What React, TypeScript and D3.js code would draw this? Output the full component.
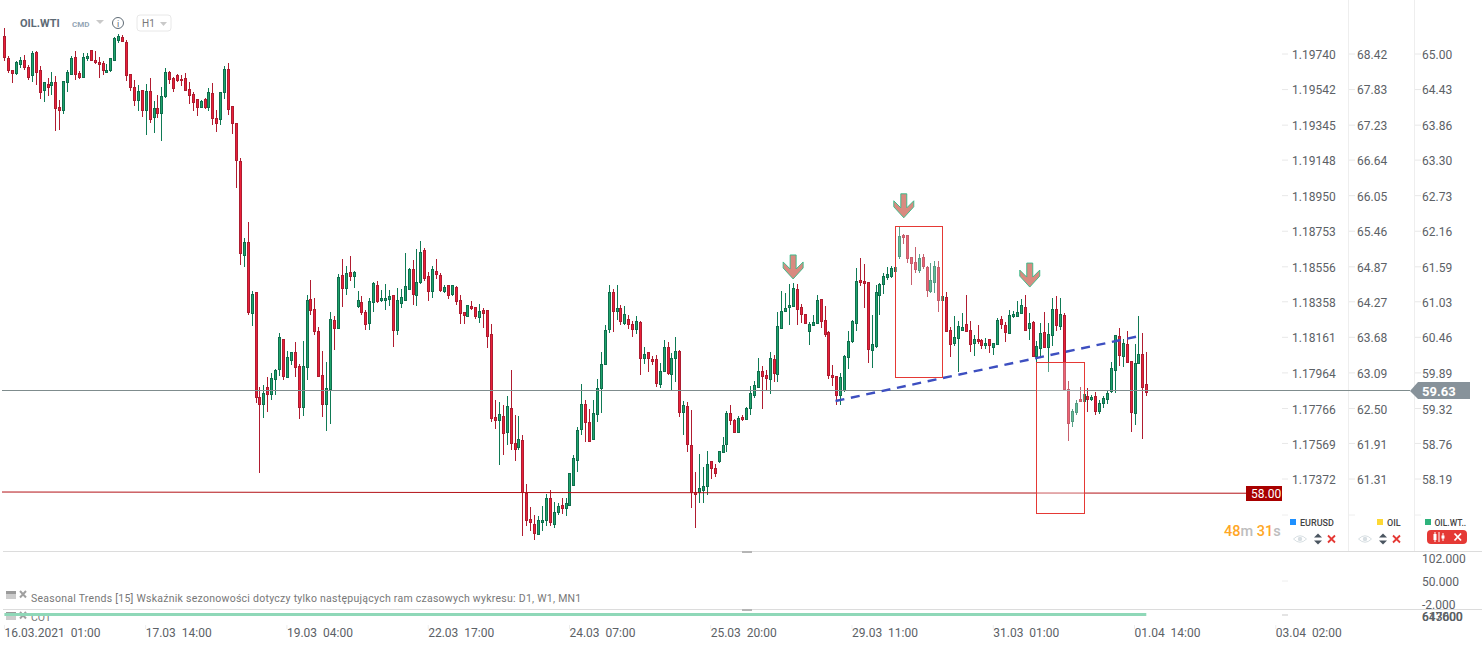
import * as d3 from "d3";

const highs = [
  65.41,64.96,64.75,64.89,64.95,64.98,64.82,65.05,65.05,64.81,
  64.55,64.61,64.71,64.65,64.27,64.57,64.74,64.97,65.05,64.73,
  65.02,65.02,65.06,65.05,64.95,64.89,64.84,64.93,65.27,65.32,
  65.31,65.23,64.68,64.58,64.50,64.42,64.52,64.61,64.25,64.34,
  64.47,64.77,64.73,64.63,64.68,64.66,64.69,64.55,64.39,64.28,
  64.27,64.30,64.45,64.53,64.10,64.39,64.80,64.86,64.17,63.89,
  63.34,62.05,62.31,61.20,61.19,59.66,59.70,59.82,59.89,59.95,
  60.53,60.43,60.24,60.23,60.39,60.03,60.40,61.14,61.38,61.09,
  60.63,60.24,60.07,60.87,60.80,61.47,61.72,61.60,61.76,61.52,
  61.20,61.12,60.90,61.09,61.35,61.36,61.22,61.31,61.22,61.14,
  61.25,61.23,61.81,61.57,61.70,61.88,62.00,61.89,61.51,61.60,
  61.72,61.49,61.30,61.30,61.30,61.28,61.14,60.87,60.98,61.04,
  60.95,60.99,60.93,60.90,60.67,59.46,59.42,59.38,59.52,59.94,
  59.22,59.20,58.90,58.11,57.74,57.61,57.60,57.76,57.95,58.01,
  57.82,57.81,57.89,57.89,58.29,58.58,59.02,59.71,59.46,59.31,
  59.46,59.79,60.22,60.66,61.30,61.23,61.30,60.98,60.96,60.82,
  60.72,60.80,60.72,60.31,60.23,60.16,60.18,60.05,60.42,60.39,
  60.21,60.47,60.26,59.44,59.42,59.30,58.30,58.59,58.38,58.64,
  58.48,58.43,58.64,58.86,59.28,59.38,59.15,59.20,59.22,59.34,
  59.68,59.76,60.13,60.00,59.94,60.22,60.18,60.87,61.20,61.17,
  61.31,61.33,61.31,61.00,60.83,60.71,60.81,61.14,61.07,60.96,
  60.56,60.02,59.84,59.89,60.18,60.56,60.74,61.57,61.73,61.64,
  61.35,60.82,61.30,61.33,61.49,61.59,61.60,61.59,62.23,62.12,
  62.10,61.75,61.91,61.80,61.80,61.60,61.65,61.68,61.68,61.12,
  61.19,60.63,60.80,60.72,60.85,61.14,60.72,60.50,60.66,60.43,
  60.45,60.43,60.37,60.77,60.80,60.71,60.90,60.88,61.04,61.07,
  61.14,60.85,60.72,60.40,60.69,60.87,60.69,61.09,61.12,61.09,
  60.85,59.76,59.31,59.46,59.67,59.63,59.65,59.54,59.58,59.46,
  59.52,59.60,60.06,60.50,60.61,60.43,60.56,60.08,60.35,60.80,60.53,60.23,
];

const lows = [
  64.89,64.69,64.54,64.67,64.78,64.75,64.58,64.55,64.51,64.28,
  64.23,64.33,64.34,63.77,63.78,64.04,64.39,64.66,64.58,64.60,
  64.62,64.89,64.89,64.84,64.62,64.66,64.70,64.71,64.89,65.18,
  65.19,64.56,64.41,64.17,64.08,63.99,63.71,63.89,63.74,63.98,
  63.61,64.30,64.52,64.39,64.55,64.49,64.41,64.20,64.08,64.01,
  64.13,64.12,64.09,63.86,63.75,63.86,64.28,64.03,63.72,62.86,
  61.62,61.58,60.81,60.64,59.40,58.29,59.17,59.27,59.46,59.54,
  59.84,59.78,59.81,60.02,59.82,59.15,59.20,59.78,60.82,60.50,
  59.83,59.18,58.96,59.07,60.26,60.59,60.95,61.14,61.36,61.25,
  60.93,60.82,60.58,60.58,60.87,61.01,61.03,60.90,60.96,60.31,
  60.50,60.93,61.04,61.22,60.98,60.96,61.31,61.36,61.04,61.09,
  61.39,61.19,61.17,61.07,61.12,60.98,60.67,60.67,60.79,60.90,
  60.75,60.69,60.61,60.29,59.11,58.99,58.41,58.57,58.73,58.66,
  58.48,58.66,57.28,57.44,57.35,57.22,57.30,57.36,57.44,57.44,
  57.40,57.62,57.63,57.60,57.75,58.08,58.31,58.90,58.79,58.79,
  58.82,59.11,59.25,60.01,60.53,60.55,60.73,60.65,60.66,60.60,
  60.46,60.51,59.85,60.04,59.91,60.02,59.66,59.65,59.91,59.86,
  59.62,59.75,59.18,58.90,58.63,57.72,57.40,57.80,57.81,57.94,
  58.19,58.22,58.45,58.61,58.63,59.06,58.93,58.93,59.12,59.13,
  59.22,59.49,59.65,59.31,59.60,59.55,59.75,59.75,60.59,60.87,
  60.66,60.95,60.66,60.69,60.67,60.34,60.64,60.67,60.61,60.47,
  59.79,59.68,59.38,59.38,59.58,59.95,60.37,60.56,61.28,60.93,
  60.05,59.97,60.29,60.82,61.16,61.38,61.41,61.51,61.72,61.96,
  61.65,61.30,61.49,61.49,61.56,61.11,61.17,61.17,60.87,61.04,
  60.55,60.15,60.32,59.91,60.56,60.55,60.23,60.16,60.35,60.27,
  60.27,60.21,60.18,60.34,60.59,60.39,60.51,60.77,60.79,60.83,
  60.56,60.42,60.15,60.05,60.13,60.29,59.91,60.32,60.56,60.58,
  59.62,58.80,59.02,59.22,59.42,59.39,59.26,59.44,59.22,59.23,
  59.33,59.39,59.57,59.57,60.00,59.99,60.05,58.94,59.06,60.03,58.83,59.52,
];

const opens = [
  65.29,64.93,64.75,64.68,64.83,64.91,64.79,64.64,65.03,64.74,
  64.40,64.52,64.49,64.55,64.15,64.09,64.54,64.67,64.95,64.69,
  64.62,64.92,65.06,64.91,64.87,64.86,64.70,64.72,64.89,65.21,
  65.27,65.19,64.68,64.47,64.24,64.42,64.09,64.41,63.98,64.13,
  64.04,64.31,64.71,64.62,64.66,64.60,64.61,64.44,64.36,64.28,
  64.13,64.28,64.14,64.37,63.97,63.94,64.38,64.76,64.16,63.89,
  63.29,61.76,61.99,60.84,61.18,59.50,59.38,59.66,59.53,59.77,
  59.93,60.43,59.81,60.08,60.23,60.00,59.33,59.97,61.07,60.91,
  60.56,59.86,59.38,59.62,60.74,60.59,61.46,61.23,61.51,61.42,
  60.95,61.03,60.87,60.67,61.01,61.30,61.04,61.04,61.06,61.14,
  60.56,60.99,61.04,61.22,61.56,61.12,61.33,61.86,61.44,61.19,
  61.52,61.46,61.19,61.30,61.14,61.27,61.06,60.87,60.79,60.96,
  60.95,60.77,60.90,60.90,60.51,59.18,59.12,59.20,58.93,59.33,
  58.77,58.69,58.82,57.97,57.55,57.47,57.30,57.48,57.51,57.89,
  57.46,57.65,57.77,57.71,57.75,58.08,58.48,58.97,59.39,59.10,
  58.82,59.22,59.63,60.01,60.57,61.19,60.86,60.93,60.68,60.75,
  60.67,60.57,60.71,60.12,60.23,60.11,60.11,59.70,59.91,60.30,
  59.86,60.12,60.24,59.25,59.36,58.74,57.98,57.97,58.00,58.06,
  58.48,58.37,58.46,58.61,58.73,59.25,59.14,58.93,59.18,59.14,
  59.31,59.52,59.65,59.92,59.86,59.78,60.11,59.86,60.59,60.87,
  60.93,60.95,61.23,60.95,60.83,60.55,60.64,60.67,61.07,60.74,
  60.55,59.86,59.84,59.52,59.60,60.13,60.38,60.67,61.38,61.36,
  61.35,60.24,60.31,61.12,61.30,61.41,61.43,61.51,61.75,62.10,
  62.10,61.75,61.67,61.52,61.75,61.59,61.19,61.33,61.59,61.04,
  61.11,60.58,60.35,60.43,60.56,60.67,60.58,60.35,60.43,60.42,
  60.32,60.43,60.29,60.34,60.75,60.66,60.51,60.79,60.79,60.83,
  60.95,60.59,60.71,60.15,60.27,60.55,60.29,60.48,60.91,60.63,
  60.82,59.63,59.10,59.25,59.47,59.42,59.52,59.46,59.52,59.26,
  59.39,59.46,59.58,59.92,60.48,60.15,60.35,60.08,59.23,60.03,60.19,59.71,
];

const closes = [
  64.94,64.72,64.68,64.87,64.90,64.78,64.62,65.01,64.70,64.38,
  64.55,64.46,64.55,64.12,64.08,64.56,64.71,64.94,64.66,64.62,
  64.95,64.97,64.89,64.85,64.83,64.72,64.74,64.93,65.26,65.29,
  65.20,64.64,64.46,64.25,64.41,64.09,64.41,63.94,64.13,64.04,
  64.33,64.71,64.58,64.44,64.57,64.56,64.41,64.33,64.22,64.14,
  64.24,64.13,64.39,63.96,63.88,64.39,64.76,64.11,63.88,63.29,
  61.80,61.99,60.85,61.15,59.48,59.38,59.57,59.53,59.81,59.94,
  60.47,59.83,60.15,60.23,59.97,59.33,60.00,61.06,60.88,60.55,
  59.83,59.37,59.65,60.75,60.59,61.43,61.23,61.49,61.43,61.51,
  61.06,60.85,60.66,61.04,61.33,61.03,61.09,61.09,61.12,60.56,
  61.06,61.11,61.28,61.56,61.14,61.35,61.83,61.39,61.19,61.56,
  61.46,61.20,61.27,61.12,61.30,61.03,60.83,60.80,60.98,60.91,
  60.79,60.88,60.83,60.47,59.15,59.12,59.23,58.91,59.36,58.75,
  58.66,58.83,57.97,57.51,57.48,57.31,57.53,57.53,57.89,57.49,
  57.66,57.76,57.71,57.81,58.28,58.53,58.98,59.39,59.09,58.79,
  59.25,59.65,60.03,60.58,61.19,60.87,60.93,60.70,60.83,60.66,
  60.58,60.72,60.12,60.19,60.12,60.07,59.72,59.92,60.30,59.88,
  60.13,60.24,59.25,59.38,58.74,57.96,57.93,58.05,58.08,58.43,
  58.35,58.27,58.64,58.73,59.25,59.12,58.93,59.17,59.14,59.33,
  59.57,59.70,59.92,59.82,59.79,60.13,59.87,60.64,60.88,60.93,
  60.98,61.25,60.90,60.81,60.68,60.67,60.71,61.06,60.71,60.50,
  59.84,59.81,59.52,59.83,60.16,60.40,60.72,61.36,61.33,61.32,
  60.26,60.35,61.19,61.32,61.44,61.48,61.57,61.59,62.08,62.05,
  61.72,61.64,61.54,61.73,61.59,61.20,61.38,61.60,61.04,61.12,
  60.55,60.34,60.47,60.64,60.63,60.55,60.34,60.43,60.39,60.32,
  60.37,60.32,60.37,60.74,60.66,60.53,60.82,60.83,60.87,60.98,
  60.56,60.69,60.15,60.32,60.53,60.29,60.51,60.91,60.64,60.83,
  59.62,59.07,59.28,59.41,59.42,59.55,59.46,59.50,59.26,59.41,
  59.49,59.57,59.97,60.50,60.16,60.37,60.05,59.25,60.05,60.19,59.65,59.57,
];

const eurTicks = ["1.19740","1.19542","1.19345","1.19148","1.18950","1.18753","1.18556","1.18358","1.18161","1.17964","1.17766","1.17569","1.17372"];
const oilTicks = ["68.42","67.83","67.23","66.64","66.05","65.46","64.87","64.27","63.68","63.09","62.50","61.91","61.31"];
const wtiTicks = ["65.00","64.43","63.86","63.30","62.73","62.16","61.59","61.03","60.46","59.89","59.32","58.76","58.19"];
const seasonalTicks = ["102.000", "50.000", "-2.000"];
const timeLabels = ["16.03.2021  01:00","17.03  14:00","19.03  04:00","22.03  17:00","24.03  07:00","25.03  20:00","29.03  11:00","31.03  01:00","01.04  14:00","03.04  02:00"];

// drawings on the chart, in candle index and price
const arrowIndexes = [201, 229.2, 261.3];
const arrowPrices = [61.78, 62.76, 61.65];
const boxIndexes = [[227, 239], [263, 275]];
const boxPrices = [[62.24, 59.82], [60.06, 57.64]];
const trendIndexes = [211.8, 289.9];
const trendPrices = [59.44, 60.49];
const lastPrice = 59.608;
const levelPrice = 57.97;

const FONT = "Roboto, sans-serif";
const TEXT = "#5c6166";

const x = d3.scaleLinear().domain([0, 291]).range([4.4, 1146.3]);
const y = d3.scaleLinear().domain([65, 58.19]).range([54, 479]);
const labelY = d3.scaleLinear().domain([65, 58.19]).range([54.3, 480]);
const tickY = (i: number) => y(+wtiTicks[i]);
const seasonalY = d3.scaleLinear().domain([102, -2]).range([559, 605]);
const snap = (v: number) => Math.round(v) + 0.5;

function Arrow({ cx, top }: { cx: number; top: number }) {
  const pts = [[-3,0],[3,0],[3,14],[10,7],[10,13],[0,24],[-10,13],[-10,7],[-3,14]];
  return (
    <polygon
      points={pts.map((p) => `${cx + p[0]},${top + p[1]}`).join(" ")}
      fill="#d98a80"
      stroke="#30bb88"
      strokeWidth={0.9}
    />
  );
}

function Axis({ labels, tickX, textX }: { labels: string[]; tickX: number; textX: number }) {
  return (
    <g>
      {labels.map((t, i) => (
        <g key={t}>
          <line x1={tickX} x2={tickX + 6} y1={tickY(i)} y2={tickY(i)} stroke="#e8e8e8" />
          <text x={textX} y={labelY(+wtiTicks[i])} dy="0.36em" fontSize={12} fill={TEXT} fontFamily={FONT}>{t}</text>
        </g>
      ))}
      <line x1={tickX} x2={tickX + 6} y1={515} y2={515} stroke="#eeeeee" />
    </g>
  );
}

function SeriesControls({ eye, arrows, cross }: { eye: number; arrows: number; cross: number }) {
  return (
    <g>
      <path d={`M${eye - 6.5},539 Q${eye},532.5 ${eye + 6.5},539 Q${eye},545.5 ${eye - 6.5},539Z`} fill="none" stroke="#d8dfe3" />
      <circle cx={eye} cy={539} r={2.2} fill="#d8dfe3" />
      <path d={`M${arrows - 4},537.5 L${arrows},533.5 L${arrows + 4},537.5Z M${arrows - 4},540.5 L${arrows},544.5 L${arrows + 4},540.5Z`} fill="#4a5560" />
      <path d={`M${cross - 3.5},535.5 L${cross + 3.5},542.5 M${cross + 3.5},535.5 L${cross - 3.5},542.5`} stroke="#e53935" strokeWidth={1.8} />
    </g>
  );
}

function PanelIcons({ top }: { top: number }) {
  return (
    <g fill="#9a9a9a">
      <rect x={6} y={top} width={10} height={3.5} />
      <rect x={6} y={top + 4.5} width={10} height={1} />
      <rect x={6} y={top + 6.5} width={10} height={1} />
      <path d={`M20,${top} L26,${top + 6.5} M26,${top} L20,${top + 6.5}`} stroke="#a0a0a0" strokeWidth={2} />
    </g>
  );
}

export default function App() {
  return (
    <svg
      width={1482}
      height={650}
      viewBox="0 0 1482 650"
      style={{ position: "fixed", left: 0, top: 0, background: "#fff" }}
    >
      {/* header */}
      <text x={20} y={27} fontSize={11} fontWeight={700} fill="#5d6a75" fontFamily={FONT}>OIL.WTI</text>
      <text x={72} y={27} fontSize={8} fontWeight={700} fill="#93a5b5" fontFamily={FONT}>CMD</text>
      <path d="M96,20 L104,20 L100,24Z" fill="#c9c9c9" />
      <circle cx={118} cy={23} r={5.5} fill="none" stroke="#5f6b75" />
      <text x={118} y={26.5} fontSize={9} textAnchor="middle" fill="#5f6b75" fontFamily={FONT}>i</text>
      <rect x={137} y={15} width={34} height={16} rx={3} fill="#fff" stroke="#e8e8e8" />
      <text x={142} y={27} fontSize={10} fill="#777" fontFamily={FONT}>H1</text>
      <path d="M160,22 L167,22 L163.5,26Z" fill="#c9c9c9" />

      {/* pane frames */}
      <line x1={1348.5} x2={1348.5} y1={0} y2={551} stroke="#eeeeee" />
      <line x1={1414.5} x2={1414.5} y1={0} y2={551} stroke="#eeeeee" />
      <line x1={3} x2={1482} y1={551.5} y2={551.5} stroke="#dcdcdc" />
      <line x1={3} x2={1482} y1={609.5} y2={609.5} stroke="#dcdcdc" />
      <rect x={742} y={551} width={10} height={2} fill="#b5b5b5" />
      <rect x={742} y={609} width={10} height={2} fill="#b5b5b5" />

      {/* candles */}
      <g>
        {highs.map((h, i) => {
          const px = Math.round(x(i));
          const up = closes[i] >= opens[i];
          const top = Math.round(y(Math.max(opens[i], closes[i])));
          const bottom = Math.round(y(Math.min(opens[i], closes[i])));
          const wickTop = Math.round(y(h));
          const wickBottom = Math.round(y(lows[i]));
          return (
            <g key={i}>
              <rect x={px} y={wickTop} width={1} height={wickBottom - wickTop} fill={up ? "#0f7a55" : "#b01c30"} />
              <rect
                x={px - 0.5}
                y={top + 0.5}
                width={2}
                height={Math.max(bottom - top - 1, 1)}
                fill={up ? "#1ea36c" : "#ea2039"}
                stroke={up ? "#0f6e4d" : "#ad1c30"}
                strokeWidth={1}
              />
            </g>
          );
        })}
      </g>

      {/* price lines */}
      <line x1={2} x2={1410} y1={y(lastPrice)} y2={y(lastPrice)} stroke="#7f8c8d" strokeWidth={1} />
      <line x1={2} x2={1247} y1={y(levelPrice) - 0.7} y2={y(levelPrice) + 0.5} stroke="#b31217" strokeWidth={1} />

      {/* drawings */}
      <path
        d={d3.line()(trendIndexes.map((d, i) => [x(d), y(trendPrices[i])])) ?? ""}
        stroke="#3d4fc0"
        strokeWidth={2.4}
        strokeDasharray="9 6.7"
        fill="none"
      />
      {boxIndexes.map((b, i) => (
        <rect
          key={i}
          x={snap(x(b[0]))}
          y={snap(y(boxPrices[i][0]))}
          width={snap(x(b[1])) - snap(x(b[0]))}
          height={snap(y(boxPrices[i][1])) - snap(y(boxPrices[i][0]))}
          fill="#fff"
          fillOpacity={0.3}
          stroke="#e53935"
          strokeWidth={1}
        />
      ))}
      {arrowIndexes.map((d, i) => (
        <Arrow key={i} cx={x(d)} top={y(arrowPrices[i])} />
      ))}

      {/* right axes */}
      <Axis labels={eurTicks} tickX={1282} textX={1292} />
      <Axis labels={oilTicks} tickX={1349} textX={1357} />
      <Axis labels={wtiTicks} tickX={1415} textX={1422} />

      {/* price labels */}
      <polygon points="1410,391 1418,382 1470,382 1470,399 1418,399" fill="#87929a" />
      <text x={1422} y={391} dy="0.36em" fontSize={13} fontWeight={700} fill="#fff" fontFamily={FONT}>59.63</text>
      <rect x={1246} y={486} width={36} height={15} fill="#a80000" />
      <text x={1251} y={493.5} dy="0.36em" fontSize={12} fill="#fff" fontFamily={FONT}>58.00</text>

      {/* timer */}
      <text x={1224} y={536} fontSize={14.5} fontWeight={500} fontFamily={FONT} fill="#ffa726">
        48<tspan fill="#bdbdbd">m</tspan> 31<tspan fill="#bdbdbd">s</tspan>
      </text>

      {/* series legend */}
      <rect x={1290} y={519} width={6} height={6} fill="#1e90ff" />
      <text x={1300} y={525.5} fontSize={9} fontWeight={500} fill="#444" fontFamily={FONT}>EURUSD</text>
      <rect x={1377} y={519} width={6} height={6} fill="#fdd835" />
      <text x={1387} y={525.5} fontSize={9} fontWeight={500} fill="#444" fontFamily={FONT}>OIL</text>
      <rect x={1425} y={519} width={6} height={6} fill="#2eb37c" />
      <text x={1434.5} y={525.5} fontSize={8.5} fontWeight={500} fill="#444" fontFamily={FONT}>OIL.WT..</text>
      <SeriesControls eye={1300} arrows={1318} cross={1331.5} />
      <SeriesControls eye={1365} arrows={1383} cross={1396.5} />
      <rect x={1427} y={530} width={40} height={14} rx={4} fill="#e53935" />
      <path d="M1435,532 V542 M1443,533 V541 M1439,532 V542" stroke="#fff" strokeWidth={1} />
      <rect x={1433.5} y={534} width={3} height={6} fill="#fff" />
      <rect x={1441.5} y={535.5} width={3} height={3} fill="#fff" />
      <path d="M1454.5,533.5 L1461,540.5 M1461,533.5 L1454.5,540.5" stroke="#fff" strokeWidth={1.8} />

      {/* lower panes */}
      <line x1={1282} x2={1288} y1={581} y2={581} stroke="#eeeeee" />
      <line x1={1282} x2={1288} y1={615} y2={615} stroke="#e4e4e4" strokeWidth={2} />
      {seasonalTicks.map((t) => (
        <text key={t} x={1422} y={seasonalY(+t)} dy="0.36em" fontSize={12} fill={TEXT} fontFamily={FONT}>{t}</text>
      ))}
      <text x={1422} y={617} dy="0.36em" fontSize={12} fontWeight={500} fill={TEXT} fontFamily={FONT}>643600</text>
      <text x={1422} y={617} dy="0.36em" fontSize={12} fill={TEXT} fontFamily={FONT}>617000</text>
      <PanelIcons top={591} />
      <text x={31} y={602} fontSize={10.5} letterSpacing={0.26} fill="#777" fontFamily={FONT}>
        Seasonal Trends [15] Wskaźnik sezonowości dotyczy tylko następujących ram czasowych wykresu: D1, W1, MN1
      </text>
      <PanelIcons top={612} />
      <text x={31} y={621} fontSize={10.5} fill="#777" fontFamily={FONT}>COT</text>
      <line x1={x(0)} x2={x(291)} y1={614.5} y2={614.5} stroke="#8fd8b8" strokeWidth={3} />

      {/* time axis */}
      {timeLabels.map((t, i) => (
        <g key={t}>
          <line x1={x(36 * i)} x2={x(36 * i)} y1={625} y2={629} stroke="#eeeeee" />
          <text x={x(36 * i)} y={637} fontSize={12} fill={TEXT} fontFamily={FONT} style={{ whiteSpace: "pre" }}>{t}</text>
        </g>
      ))}
    </svg>
  );
}
